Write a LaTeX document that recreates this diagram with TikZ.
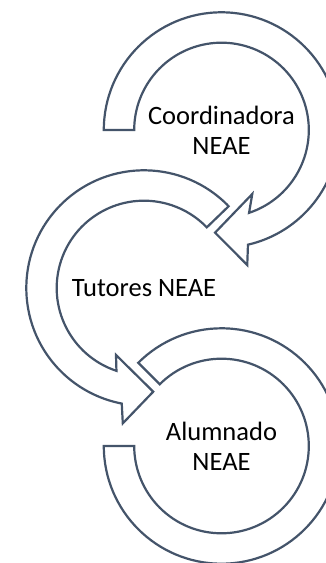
\documentclass[tikz,border=0pt]{standalone}
\usepackage{fontspec}
\setmainfont{Carlito}
\usetikzlibrary{positioning}
\definecolor{neae}{HTML}{44546A}
\tikzset{
  ring/.style={
    draw=neae,
    fill=white,
    line width=2.2pt,
    line join=miter,
  },
  stage text/.style={
    font=\fontsize{26.5}{30}\selectfont,
    align=center,
    text=black,
  }
}

\begin{document}
\begin{tikzpicture}[x=1pt, y=1pt]
        \useasboundingbox (0,0) rectangle (326,563);
        \coordinate (ctop) at (221.5,433);
        \coordinate (cmid) at (144,275);
        \coordinate (cbot) at (221.5,117);

        % circular arrows
        \draw [ring, shift={(ctop)}] (180:117.7) arc [start angle=180, end angle=-77, radius=117.7]
          -- (-79.2:137.4) -- (-93.6:102.9) -- (-64.3:71) -- (-71.6:87.3)
          arc [start angle=-71.6, end angle=180, radius=87.3] -- cycle;
        \draw [ring, shift={(cmid)}] (44:117.7) arc [start angle=44, end angle=259.1, radius=117.7]
          -- (261.1:137) -- (275.1:104.1) -- (247.3:72.6) -- (251.6:87.3)
          arc [start angle=251.6, end angle=44, radius=87.3] -- cycle;
        \draw [ring, shift={(cbot)}] (180:117.7) arc [start angle=180, end angle=495, radius=117.7]
          -- (135:87.3) arc [start angle=135, end angle=-180, radius=87.3] -- cycle;

        \node [stage text] (coord) at (ctop) {Coordinadora\\NEAE};
        \node [stage text] (tut) at (cmid) {Tutores NEAE};
        \node [stage text] (alum) at (cbot) {Alumnado\\NEAE};
      \end{tikzpicture}
\end{document}
